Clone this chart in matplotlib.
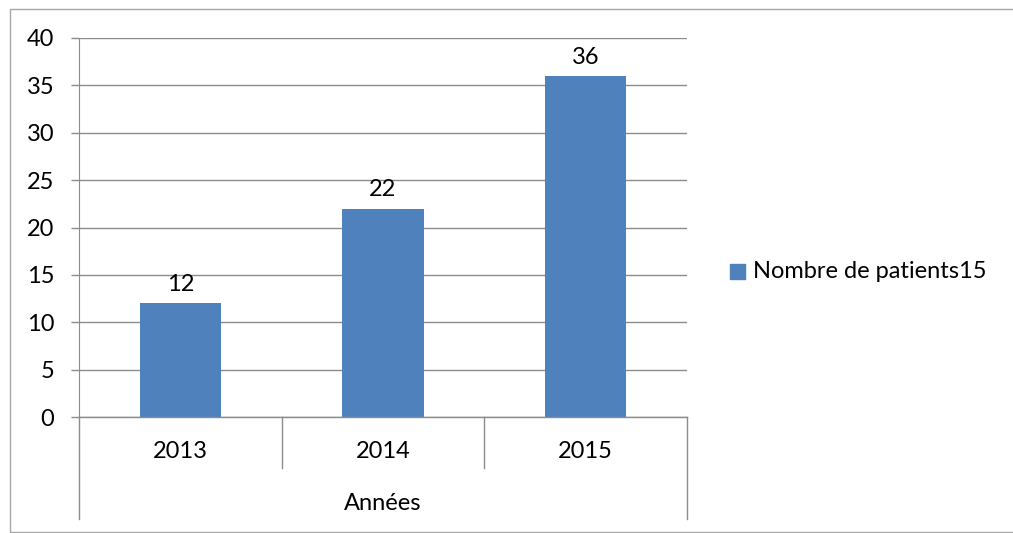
import matplotlib
matplotlib.use("Agg")
import matplotlib.pyplot as plt
from matplotlib.patches import Rectangle
from matplotlib.lines import Line2D

categories = ["2013", "2014", "2015"]
values = [12, 22, 36]
series_name = "Nombre de patients15"
group_label = "Années"
yticks = [0, 5, 10, 15, 20, 25, 30, 35, 40]

plt.rcParams['font.family'] = ['Lato', 'DejaVu Sans']
W, H = 1013, 533
fig = plt.figure(figsize=(W/100, H/100), dpi=100)

def fx(px): return px / W
def fy(py): return 1 - py / H

L, R, T, B = 79, 687, 38, 417
ax = fig.add_axes([fx(L), fy(B), fx(R) - fx(L), fy(T) - fy(B)])
grid_c = "#8C8C8C"
bar_c = "#4F81BD"
fs = 17

x = [i + 0.5 for i in range(len(categories))]
ax.bar(x, values, width=0.4, color=bar_c, zorder=3)
for xi, v in zip(x, values):
    ax.annotate(str(v), (xi, v), xytext=(0, 6), textcoords="offset points",
                ha="center", va="bottom", fontsize=fs, color="black")

ax.set_xlim(0, len(categories))
ax.set_ylim(0, 40)
ax.set_yticks(yticks)
ax.set_yticklabels([str(t) for t in yticks], fontsize=fs)
ax.tick_params(axis='y', length=5.8, width=1, color=grid_c, pad=12)
ax.set_xticks([])
for s in ["top", "right", "bottom"]:
    ax.spines[s].set_visible(False)
ax.spines["left"].set_color(grid_c)
ax.yaxis.grid(True, color=grid_c, linewidth=1, zorder=0)
ax.set_axisbelow(True)

# category axis with multi-level boxes
tr = ax.get_xaxis_transform()
ph = B - T
def ay(py): return (B - py) / ph
ax.add_line(Line2D([0, 3], [0, 0], transform=tr, color=grid_c, lw=1, clip_on=False, zorder=4))
for xs, yb in [(0, 519), (1, 468), (2, 468), (3, 519)]:
    ax.add_line(Line2D([xs, xs], [0, ay(yb)], transform=tr, color=grid_c, lw=1, clip_on=False))
for xi, c in zip(x, categories):
    ax.text(xi, ay(452), c, transform=tr, ha="center", va="center", fontsize=fs)
ax.text(1.5, ay(503), group_label, transform=tr, ha="center", va="center", fontsize=fs)

# legend
fig.patches.append(Rectangle((fx(730), fy(279)), fx(15), fy(264) - fy(279), transform=fig.transFigure,
                             color=bar_c, figure=fig))
fig.text(fx(753), fy(271), series_name, ha="left", va="center", fontsize=fs)

# outer border (right edge lies outside the image)
fig.patches.append(Rectangle((fx(10), fy(532)), fx(1030) - fx(10), fy(9) - fy(532), transform=fig.transFigure,
                             fill=False, edgecolor="#A6A6A6", lw=1, figure=fig))

fig.savefig("out.png", dpi=100)
